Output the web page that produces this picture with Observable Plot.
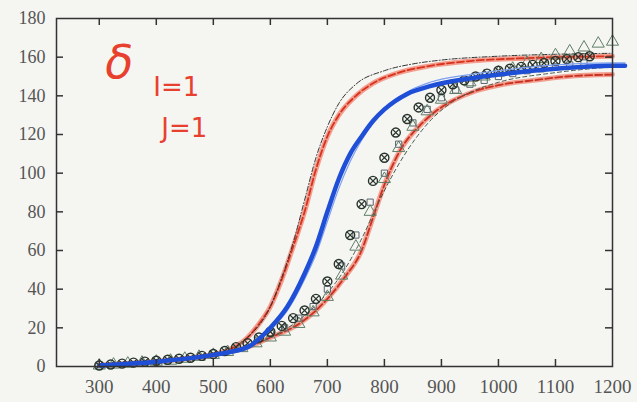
<!DOCTYPE html>
<html>
<head>
<meta charset="utf-8">
<script src="https://cdn.jsdelivr.net/npm/d3@7"></script>
<script src="https://cdn.jsdelivr.net/npm/@observablehq/plot@0.6"></script>
<style>
  html, body { margin: 0; padding: 0; background: #f5f6f2; }
</style>
</head>
<body>
<div id="chart"></div>
<script>
// ---- data ----
const xTicks = [300, 400, 500, 600, 700, 800, 900, 1000, 1100, 1200];
const yTicks = [0, 20, 40, 60, 80, 100, 120, 140, 160, 180];

const redUpperX = [300,350,400,450,500,530,560,580,600,620,640,660,680,700,720,750,780,820,880,950,1050,1200];
const redUpperY = [0.5,1.5,2.5,4,6,9,15,22,31,45,62,80,102,119,130,140,146.5,151.5,155.5,158,159.5,160.5];

const dashDotX = [560,600,620,640,660,680,700,720,750,800,850,900,1000,1100,1200];
const dashDotY = [15,31,46,64,86,108,124,136,146,153,156.5,158.5,160.5,161.5,162];

const blueX = [300,400,500,560,600,630,660,680,700,720,740,760,780,800,840,880,950,1000,1100,1200,1222];
const blueY = [0.5,2.5,6,10,20,31,48,62,80,97,110,119,127,133,141,145,149,151,154,155.5,155.5];
const blueThinY = [0.5,2.5,6,10,19,29,45,58,75,92,106,117,126,133,142,147,151,153,156,157,157];

const redLowerX = [300,400,500,560,600,650,680,700,730,760,780,800,830,860,890,920,960,1000,1060,1120,1200];
const redLowerY = [0.5,2.5,6,10,15,22,29,35,46,60,77,94,113,124,132,137.5,142.5,145.5,148,150,151];

const dashX = [300,500,600,650,700,730,760,790,820,850,880,920,960,1000,1100,1200];
const dashY = [0.5,6,15,24,38,50,66,85,102,116,127,137,143,147,152,155];

const circX = [300,320,340,360,380,400,420,440,460,480,500,520,540,560,580,600,620,640,660,680,700,720,740,760,780,800,820,840,860,880,900,920,940,960,980,1000,1020,1040,1060,1080,1100,1120,1140,1160];
const circY = [0.5,1,1.5,2,2.5,3,3.5,4,4.5,5.5,6.5,8,10,12,15,18,21,25,29,35,44,53,68,84,96,108,121,128,134,139,143,146,148,150,151.5,153,154,155,156,157,158,159,160,160.5];

const triX = [300,325,350,375,400,425,450,475,500,525,550,575,600,625,650,675,700,725,750,775,800,825,850,875,900,925,950,975,1000,1025,1050,1075,1100,1125,1150,1175,1200];
const triY = [0.5,1,1.5,2,2.5,3,4,5,6,7.5,9.5,12,15,18,22,28,36,47,62,80,97,113,124,132,138,143,147,150,152,154,157,159,161,163,165,167,168];

const sqX = [600,625,650,675,700,725,750,775,800,825,850,875,900,925,950,975,1000,1025,1050,1075,1100,1125,1150];
const sqY = [17,20,25,31,40,52,68,85,100,115,126,133,139,143,146,148,150,151.5,153,154,155,156,157];

const deltaNote = {x: 335, y: 157, text: "δ"};
const ijX = [435, 449];
const ijY = [144, 123];
const ijText = ["I=1", "J=1"];

// ---- build tables ----
const zip = (xs, ys) => xs.map((x, i) => ({x, y: ys[i]}));
const redUpper = zip(redUpperX, redUpperY);
const dashDot = zip(dashDotX, dashDotY);
const blue = zip(blueX, blueY);
const blueThin = zip(blueX, blueThinY);
const redLower = zip(redLowerX, redLowerY);
const dashed = zip(dashX, dashY);
const circles = zip(circX, circY);
const triangles = zip(triX, triY);
const squares = zip(sqX, sqY);
const ij = ijX.map((x, i) => ({x, y: ijY[i], text: ijText[i]}));

const W = 637, H = 402;
const mt = 18, mb = 36, ml = 56, mr = 25;
const ph = H - mt - mb, pw = W - ml - mr;
const tk = 7;
const font = "Liberation Serif";

const chart = Plot.plot({
  width: W, height: H,
  marginTop: mt, marginBottom: mb, marginLeft: ml, marginRight: mr,
  style: {background: "#f5f6f2"},
  x: {domain: [225, 1200], label: null},
  y: {domain: [0, 180], label: null},
  marks: [
    // red curves (thick pink halo + dark red dashes)
    Plot.line(redUpper, {x: "x", y: "y", curve: "monotone-x", stroke: "#f2826f", strokeWidth: 5, strokeOpacity: 0.75}),
    Plot.line(redUpper, {x: "x", y: "y", curve: "monotone-x", stroke: "#d8321f", strokeWidth: 1.8, strokeDasharray: "7,3"}),
    Plot.line(dashDot, {x: "x", y: "y", curve: "monotone-x", stroke: "#333", strokeWidth: 1, strokeDasharray: "5,2,1,2"}),
    Plot.line(redLower, {x: "x", y: "y", curve: "monotone-x", stroke: "#f2826f", strokeWidth: 5, strokeOpacity: 0.75}),
    Plot.line(redLower, {x: "x", y: "y", curve: "monotone-x", stroke: "#c83020", strokeWidth: 1.8, strokeDasharray: "7,3"}),
    Plot.line(dashed, {x: "x", y: "y", curve: "monotone-x", stroke: "#4a5a4e", strokeWidth: 1, strokeDasharray: "4,3"}),
    // markers
    Plot.dot(squares, {x: "x", y: "y", symbol: "square", r: 3.5, stroke: "#5a6470", strokeWidth: 1, fill: "none"}),
    Plot.dot(triangles, {x: "x", y: "y", symbol: "triangle", r: 4.5, stroke: "#5f7d66", strokeWidth: 1, fill: "none"}),
    Plot.dot(circles, {x: "x", y: "y", symbol: "circle", r: 4.5, stroke: "#27332c", strokeWidth: 1.4, fill: "none"}),
    Plot.dot(circles, {x: "x", y: "y", symbol: "times", r: 3, stroke: "#27332c", strokeWidth: 1.2}),
    // blue curves
    Plot.line(blueThin, {x: "x", y: "y", curve: "monotone-x", stroke: "#7d9ff0", strokeWidth: 1.2}),
    Plot.line(blue, {x: "x", y: "y", curve: "monotone-x", stroke: "#1f4fd6", strokeWidth: 4.5}),
    // frame + inward ticks
    Plot.frame({stroke: "#333", strokeWidth: 1.5}),
    Plot.tickX(xTicks.slice(0, -1), {x: d => d, insetTop: ph - tk, stroke: "#333", strokeWidth: 1.5}),
    Plot.tickX(xTicks.slice(0, -1), {x: d => d, insetBottom: ph - tk, stroke: "#333", strokeWidth: 1.5}),
    Plot.tickY(yTicks.slice(1, -1), {y: d => d, insetRight: pw - tk, stroke: "#333", strokeWidth: 1.5}),
    Plot.tickY(yTicks.slice(1, -1), {y: d => d, insetLeft: pw - tk, stroke: "#333", strokeWidth: 1.5}),
    // tick labels
    Plot.axisX({ticks: xTicks, tickSize: 0, tickPadding: 13, fontSize: 19, fontFamily: font, fill: "#555", label: null, tickFormat: d => String(d)}),
    Plot.axisY({ticks: yTicks, tickSize: 0, tickPadding: 11, fontSize: 18, fontFamily: font, fill: "#555", label: null, tickFormat: d => String(d)}),
    // handwritten annotation
    Plot.text([deltaNote], {x: "x", y: "y", text: "text", fill: "#e8402f", fontSize: 46, fontStyle: "italic", fontFamily: "DejaVu Sans"}),
    Plot.text(ij, {x: "x", y: "y", text: "text", fill: "#e8402f", fontSize: 26, fontFamily: "DejaVu Sans"})
  ]
});
document.getElementById("chart").appendChild(chart);
</script>
</body>
</html>
